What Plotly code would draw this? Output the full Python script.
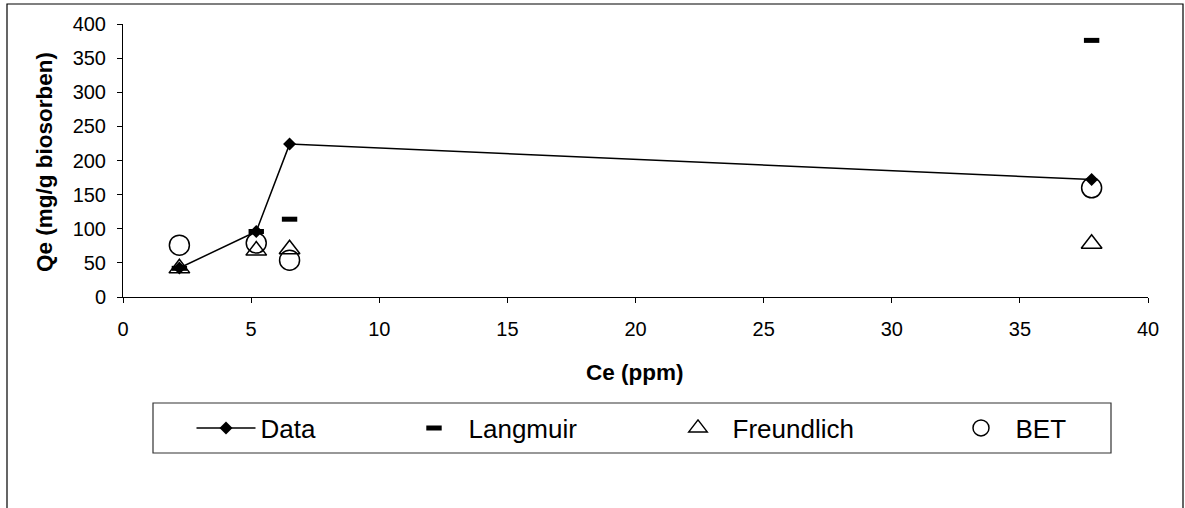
import plotly.graph_objects as go

# ---- data ----
ce = [2.2, 5.2, 6.5, 37.8]
qe_data = [42.5, 96, 224, 172]
qe_langmuir = [42, 96, 114, 376]
qe_freundlich = [42, 68, 70, 78]
qe_bet = [76, 79, 54, 160]

x_ticks = [0, 5, 10, 15, 20, 25, 30, 35, 40]
y_ticks = [0, 50, 100, 150, 200, 250, 300, 350, 400]

FONT = "Liberation Sans, Arial, sans-serif"

W, H = 1185, 508
L, R, T, B = 123, 37, 24, 211
PW, PH = W - L - R, H - T - B


def px_x(p):
    return (p - L) / PW


def px_y(p):
    return (H - B - p) / PH


fig = go.Figure()

fig.add_trace(go.Scatter(
    x=ce, y=qe_data, name="Data", mode="lines+markers",
    line=dict(color="black", width=1.5),
    marker=dict(symbol="diamond", size=10, color="black"),
    legend="legend",
))
fig.add_trace(go.Scatter(
    x=ce, y=qe_langmuir, name="Langmuir", mode="markers",
    marker=dict(symbol="line-ew", size=11, color="black",
                line=dict(color="black", width=5)),
    legend="legend2",
))
fig.add_trace(go.Scatter(
    x=ce, y=qe_freundlich, name="Freundlich", mode="markers",
    marker=dict(symbol="triangle-up-open", size=18, color="black",
                line=dict(color="black", width=1.5)),
    legend="legend3",
))
fig.add_trace(go.Scatter(
    x=ce, y=qe_bet, name="BET", mode="markers",
    marker=dict(symbol="circle-open", size=20, color="black",
                line=dict(color="black", width=1.5)),
    legend="legend4",
))

axis_common = dict(
    showgrid=False, zeroline=False, showline=True,
    linecolor="black", linewidth=1,
    ticks="outside", ticklen=5, tickwidth=1, tickcolor="black",
    tickfont=dict(family=FONT, size=20, color="black"),
)

fig.update_xaxes(range=[0, 40], tickmode="array", tickvals=x_ticks,
                 ticktext=[str(v) for v in x_ticks], ticklabelstandoff=9,
                 **axis_common)
fig.update_yaxes(range=[0, 400], tickmode="array", tickvals=y_ticks,
                 ticktext=[str(v) for v in y_ticks], ticklabelstandoff=7,
                 **axis_common)

leg_y = px_y(428)
leg_common = dict(orientation="v", yanchor="middle", xanchor="left",
                  y=leg_y, bgcolor="rgba(0,0,0,0)", borderwidth=0,
                  itemwidth=59,
                  font=dict(family=FONT, size=26, color="black"))
legend_lefts = [191.5, 399.5, 663.5, 946.5]

fig.update_layout(
    width=W, height=H,
    margin=dict(l=L, r=R, t=T, b=B, autoexpand=False),
    paper_bgcolor="white", plot_bgcolor="white",
    font=dict(family=FONT, color="black"),
    legend=dict(x=px_x(legend_lefts[0]), **leg_common),
    legend2=dict(x=px_x(legend_lefts[1]), **leg_common),
    legend3=dict(x=px_x(legend_lefts[2]), **leg_common),
    legend4=dict(x=px_x(legend_lefts[3]), **leg_common),
    annotations=[
        dict(text="<b>Ce (ppm)</b>", xref="paper", yref="paper",
             x=px_x(635), y=px_y(372), xanchor="center", yanchor="middle",
             showarrow=False, font=dict(family=FONT, size=22.5, color="black")),
        dict(text="<b>Qe (mg/g biosorben)</b>", xref="paper", yref="paper",
             x=px_x(44), y=px_y(162), xanchor="center", yanchor="middle",
             textangle=-90, showarrow=False,
             font=dict(family=FONT, size=22.5, color="black")),
    ],
    shapes=[
        # outer chart frame (bottom edge lies outside the picture)
        dict(type="rect", xref="paper", yref="paper",
             x0=px_x(7), x1=px_x(1183), y0=px_y(530), y1=px_y(4),
             line=dict(color="black", width=1.2), fillcolor="rgba(0,0,0,0)"),
        # legend box
        dict(type="rect", xref="paper", yref="paper",
             x0=px_x(153), x1=px_x(1111), y0=px_y(453), y1=px_y(403),
             line=dict(color="#333333", width=1.2), fillcolor="rgba(0,0,0,0)"),
    ],
    showlegend=True,
)

fig.write_html("out.html")
